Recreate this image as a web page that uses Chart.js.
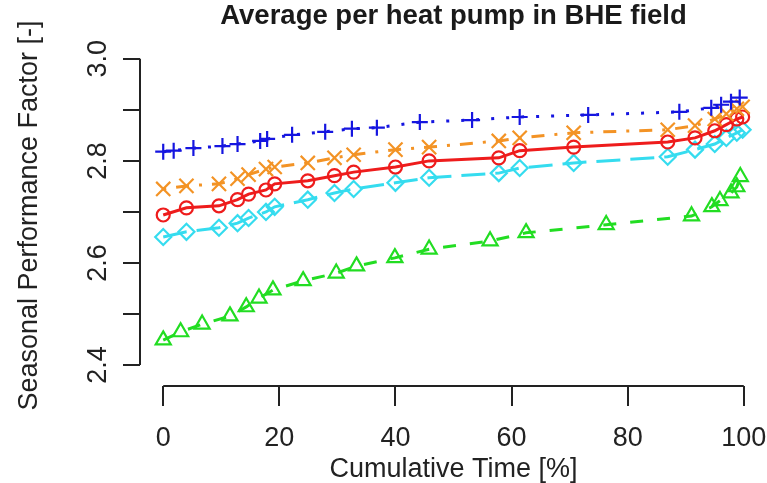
<!DOCTYPE html>
<html>
<head>
<meta charset="utf-8">
<script src="https://cdn.jsdelivr.net/npm/chart.js@4.4.1/dist/chart.umd.min.js"></script>
<style>
  html, body { margin: 0; padding: 0; overflow: hidden; background: #fff; }
  #wrap { width: 767px; height: 483px; }
  canvas { display: block; }
</style>
</head>
<body>
<div id="wrap"><canvas id="myChart"></canvas></div>
<script>
// cumulative time [%] where the markers sit
const timeMain = [0, 4.0, 9.6, 12.8, 14.7, 17.7, 19.2, 24.9, 29.5, 32.8, 40.0, 45.8, 57.8, 61.4, 70.7, 86.9, 91.6, 95.0, 97.0, 98.8, 99.8];
const timeBlue = [0, 1.8, 5.2, 10.2, 12.8, 16.7, 17.9, 22.2, 27.9, 32.5, 36.8, 44.2, 53.2, 61.4, 73.2, 88.9, 94.4, 96.1, 97.8, 99.3];
const timeGreen = [0, 3.0, 6.7, 11.5, 14.3, 16.5, 18.9, 24.1, 29.8, 33.3, 39.9, 45.8, 56.3, 62.5, 76.3, 91.0, 94.5, 95.9, 97.8, 98.8, 99.4];

// seasonal performance factor
const spfBlue = [2.818, 2.820, 2.825, 2.829, 2.833, 2.839, 2.843, 2.851, 2.857, 2.863, 2.865, 2.876, 2.880, 2.886, 2.890, 2.896, 2.904, 2.910, 2.916, 2.924];
const spfOrange = [2.745, 2.751, 2.755, 2.765, 2.773, 2.784, 2.788, 2.796, 2.806, 2.812, 2.822, 2.827, 2.839, 2.845, 2.855, 2.861, 2.869, 2.882, 2.892, 2.902, 2.906];
const spfRed = [2.694, 2.708, 2.712, 2.724, 2.735, 2.743, 2.755, 2.761, 2.771, 2.778, 2.788, 2.800, 2.806, 2.820, 2.827, 2.837, 2.845, 2.859, 2.871, 2.882, 2.886];
const spfCyan = [2.651, 2.661, 2.669, 2.678, 2.688, 2.700, 2.710, 2.724, 2.737, 2.745, 2.757, 2.767, 2.776, 2.786, 2.796, 2.808, 2.822, 2.833, 2.845, 2.855, 2.861];
const spfGreen = [2.449, 2.465, 2.480, 2.496, 2.514, 2.531, 2.547, 2.565, 2.580, 2.594, 2.610, 2.627, 2.643, 2.659, 2.675, 2.692, 2.710, 2.722, 2.737, 2.749, 2.769];

// axis ticks
const xTicks = [0, 20, 40, 60, 80, 100];
const yTicks = [2.4, 2.6, 2.8, 3.0];

const fontName = "'Liberation Sans', Arial, sans-serif";

function pts(xs, ys) {
    return xs.map((x, i) => ({ x: x, y: ys[i] }));
}

// R style axis lines, only from first to last tick
const axisLines = {
    id: "axisLines",
    afterDraw(chart) {
        const { ctx, chartArea } = chart;
        const x = chart.scales.x, y = chart.scales.y;
        ctx.save();
        ctx.strokeStyle = "#222";
        ctx.lineWidth = 2;
        ctx.beginPath();
        ctx.moveTo(x.getPixelForValue(xTicks[0]), chartArea.bottom);
        ctx.lineTo(x.getPixelForValue(xTicks[xTicks.length - 1]), chartArea.bottom);
        ctx.moveTo(chartArea.left, y.getPixelForValue(yTicks[0]));
        ctx.lineTo(chartArea.left, y.getPixelForValue(yTicks[yTicks.length - 1]));
        ctx.stroke();
        ctx.restore();
    }
};

let ctx = document.getElementById("myChart").getContext("2d");
let myChart = new Chart(ctx, {
    type: "scatter",
    data: {
        datasets: [
            {
                data: pts(timeBlue, spfBlue),
                borderColor: "#1515e0",
                borderDash: [3, 12],
                pointStyle: "cross",
                pointRadius: 8,
            },
            {
                data: pts(timeMain, spfOrange),
                borderColor: "#f39325",
                borderDash: [3, 10, 13, 10],
                pointStyle: "crossRot",
                pointRadius: 10,
            },
            {
                data: pts(timeMain, spfRed),
                borderColor: "#ee1c1c",
                pointStyle: "circle",
                pointRadius: 6.5,
            },
            {
                data: pts(timeMain, spfCyan),
                borderColor: "#35dcef",
                borderDash: [24, 10],
                pointStyle: "rectRot",
                pointRadius: 8,
            },
            {
                data: pts(timeGreen, spfGreen),
                borderColor: "#22dd22",
                borderDash: [13, 14],
                pointStyle: "triangle",
                pointRadius: 8.7,
            },
        ].map(d => Object.assign(d, {
            xAxisID: "x",
            yAxisID: "y",
            showLine: true,
            borderWidth: 3,
            pointBorderColor: d.borderColor,
            pointBackgroundColor: "rgba(0,0,0,0)",
            pointBorderWidth: 2.2,
            pointHoverRadius: d.pointRadius,
            clip: false,
        })),
    },
    plugins: [axisLines],
    options: {
        responsive: true,
        maintainAspectRatio: false,
        animation: false,
        layout: { padding: 0, autoPadding: false },
        plugins: {
            legend: { display: false },
            tooltip: { enabled: false },
        },
        scales: {
            x: {
                type: "linear",
                min: -4,
                max: 104,
                border: { display: false },
                grid: { drawOnChartArea: false, drawTicks: true, tickLength: 20, color: "#222", lineWidth: 2 },
                ticks: {
                    stepSize: 20,
                    includeBounds: false,
                    padding: 16,
                    color: "#222",
                    font: { family: fontName, size: 27, lineHeight: 1.2 },
                    callback: v => (xTicks.includes(v) ? String(v) : ""),
                },
                title: {
                    display: true,
                    text: "Cumulative Time [%]",
                    color: "#222",
                    font: { family: fontName, size: 27, lineHeight: 1 },
                    padding: { top: 0, bottom: 0 },
                },
                afterFit(scale) {
                    scale.height = 97;
                    scale.paddingLeft = 0;
                    scale.paddingRight = 0;
                },
            },
            // empty top scale, only there to centre the title over the plot
            top: {
                type: "linear",
                position: "top",
                min: 0,
                max: 1,
                border: { display: false },
                grid: { display: false },
                ticks: { display: false },
                title: {
                    display: true,
                    text: "Average per heat pump in BHE field",
                    color: "#1a1a1a",
                    font: { family: fontName, size: 27.5, weight: "bold", lineHeight: 1 },
                    padding: { top: 3, bottom: 0 },
                },
                afterFit(scale) {
                    scale.height = 45;
                    scale.paddingLeft = 0;
                    scale.paddingRight = 0;
                },
            },
            y: {
                type: "linear",
                min: 2.359,
                max: 3.027,
                border: { display: false },
                grid: { drawOnChartArea: false, drawTicks: true, tickLength: 17, color: "#222", lineWidth: 2 },
                ticks: {
                    stepSize: 0.1,
                    includeBounds: false,
                    minRotation: 90,
                    maxRotation: 90,
                    crossAlign: "center",
                    padding: 6,
                    color: "#222",
                    font: { family: fontName, size: 27, lineHeight: 1.2 },
                    callback: v => {
                        const t = yTicks.find(k => Math.abs(k - v) < 1e-6);
                        return t !== undefined ? t.toFixed(1) : "";
                    },
                },
                title: {
                    display: true,
                    text: "Seasonal Performance Factor [-]",
                    color: "#222",
                    font: { family: fontName, size: 27, lineHeight: 1 },
                    padding: { top: 16, bottom: 0 },
                },
                afterFit(scale) {
                    scale.width = 140;
                    scale.paddingTop = 0;
                    scale.paddingBottom = 0;
                },
            },
        },
    },
});
</script>
</body>
</html>
